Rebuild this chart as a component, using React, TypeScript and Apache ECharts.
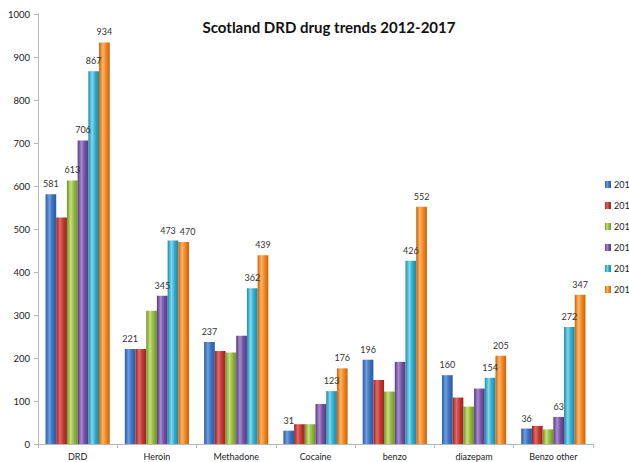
import React, { useEffect, useRef } from "react";
import * as echarts from "echarts";

const categories = ["DRD", "Heroin", "Methadone", "Cocaine", "benzo", "diazepam", "Benzo other"];
const years = ["2012", "2013", "2014", "2015", "2016", "2017"];
const v2012 = [581, 221, 237, 31, 196, 160, 36];
const v2013 = [527, 221, 216, 46, 149, 108, 42];
const v2014 = [613, 310, 213, 46, 122, 87, 34];
const v2015 = [706, 345, 252, 93, 191, 129, 63];
const v2016 = [867, 473, 362, 123, 426, 154, 272];
const v2017 = [934, 470, 439, 176, 552, 205, 347];
// which values carry a visible data label
const shown2012 = [1, 1, 1, 1, 1, 1, 1];
const shown2013 = [0, 0, 0, 0, 0, 0, 0];
const shown2014 = [1, 0, 0, 0, 0, 0, 0];
const shown2015 = [1, 1, 0, 0, 0, 0, 1];
const shown2016 = [1, 1, 1, 1, 1, 1, 1];
const shown2017 = [1, 1, 1, 1, 1, 1, 1];

const seriesValues = [v2012, v2013, v2014, v2015, v2016, v2017];
const seriesShown = [shown2012, shown2013, shown2014, shown2015, shown2016, shown2017];
const colors = [
  ["#2a5b9e", "#6d9ee0", "#3a72c0"],
  ["#9a2424", "#e06a66", "#c23733"],
  ["#6f9128", "#c4e07a", "#93bb3c"],
  ["#553a80", "#a88bd0", "#7452a3"],
  ["#1c8aa8", "#7fd8ef", "#2eabcc"],
  ["#c8620e", "#ffb566", "#f4861f"],
];

// nudge adjacent labels apart when their bars are nearly the same height
function labelShift(si: number, i: number): number {
  if (si < 1 || si > 4) {
    if (si === 5) {
      const prev = seriesValues[4][i];
      if (seriesShown[4][i] && Math.abs(prev - seriesValues[5][i]) < 25) return 4;
    }
    return 0;
  }
  const next = seriesValues[si + 1][i];
  if (seriesShown[si + 1][i] && seriesShown[si][i] && Math.abs(next - seriesValues[si][i]) < 25) return -5;
  return 0;
}

export default function App() {
  const ref = useRef<HTMLDivElement>(null);
  useEffect(() => {
    if (!ref.current) return;
    const chart = echarts.init(ref.current, null, { renderer: "svg" });
    const series = seriesValues.map((vals, si) => ({
      name: years[si],
      type: "bar",
      barGap: "0%",
      barCategoryGap: "19%",
      itemStyle: {
        color: new echarts.graphic.LinearGradient(0, 0, 1, 0, [
          { offset: 0, color: colors[si][0] },
          { offset: 0.35, color: colors[si][1] },
          { offset: 0.65, color: colors[si][2] },
          { offset: 1, color: colors[si][0] },
        ]),
      },
      label: {
        position: "top",
        fontSize: 9,
        color: "#333",
        fontFamily: "Lato, sans-serif",
        distance: 6,
      },
      data: vals.map((v, i) => ({
        value: v,
        label: { show: !!seriesShown[si][i], offset: [labelShift(si, i), 0] },
      })),
    }));
    chart.setOption({
      animation: false,
      color: colors.map((c) => c[2]),
      title: {
        text: "Scotland DRD drug trends 2012-2017",
        left: 324,
        top: 14,
        textAlign: "center",
        textStyle: { fontSize: 15, fontWeight: "bold", color: "#111", fontFamily: "Lato, sans-serif" },
      },
      legend: {
        orient: "vertical",
        left: 605,
        top: 180,
        itemGap: 12,
        itemWidth: 6,
        itemHeight: 7,
        icon: "rect",
        padding: 0,
        formatter: (name: string) => name.slice(0, 3),
        textStyle: {
          fontSize: 9,
          color: "#222",
          fontFamily: "Lato, sans-serif",
          padding: [0, 0, 0, -2],
        },
        data: years,
      },
      grid: { left: 38, right: 36, top: 14, bottom: 18 },
      xAxis: {
        type: "category",
        data: categories,
        axisLine: { lineStyle: { color: "#b8b8b8" } },
        axisTick: { show: true, length: 4, lineStyle: { color: "#b8b8b8" } },
        axisLabel: { fontSize: 9, color: "#222", margin: 8, interval: 0, fontFamily: "Lato, sans-serif" },
      },
      yAxis: {
        type: "value",
        min: 0,
        max: 1000,
        interval: 100,
        splitLine: { show: false },
        axisLine: { show: true, lineStyle: { color: "#b8b8b8" } },
        axisTick: { show: true, length: 4, lineStyle: { color: "#b8b8b8" } },
        axisLabel: {
          fontSize: 9.5,
          color: "#222",
          margin: 8,
          fontFamily: "Lato, sans-serif",
          formatter: (v: number) => String(v),
        },
      },
      series,
    });
    return () => chart.dispose();
  }, []);
  return <div ref={ref} style={{ width: 629, height: 462, position: "absolute", left: 0, top: 0 }} />;
}
